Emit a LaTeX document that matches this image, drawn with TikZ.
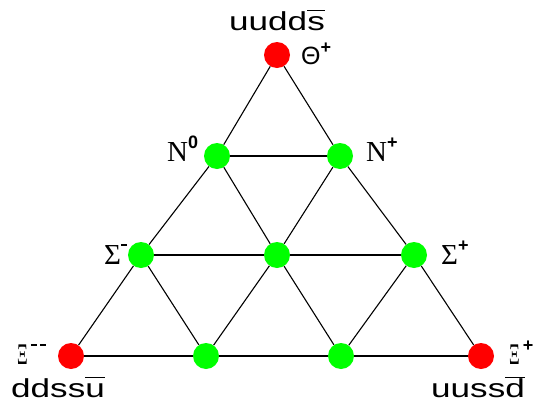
\documentclass[tikz,border=0pt]{standalone}
\usepackage{fontspec}
\setmainfont{Liberation Serif}
\newfontfamily\quarkfont{Liberation Sans}
\usetikzlibrary{positioning}

% quark content, a bit stretched like the original
\newcommand{\quarks}[1]{\scalebox{1.35}[1]{\quarkfont\fontsize{26}{30}\selectfont #1}}
\newcommand{\anti}[1]{$\overline{\mbox{\vphantom{d}#1}}$}
% charge superscript
\newcommand{\chg}[1]{\raisebox{0.42em}{\quarkfont\bfseries\fontsize{18}{18}\selectfont #1}}
\newcommand{\mns}{\rule[5.5pt]{6pt}{2.6pt}}

\begin{document}
\begin{tikzpicture}[x=1pt, y=-1pt,
		dot/.style={circle, minimum size=26pt, inner sep=0pt},
		exotic/.style={dot, fill=red},
		octet/.style={dot, fill=green},
		edge/.style={line width=1.1pt},
		lbl/.style={inner sep=0pt, font=\fontsize{29}{30}\selectfont}]
	\useasboundingbox (0,0) rectangle (542,405);
	% the ten states
	\node[exotic] (theta) at (277,55) {};
	\node[octet] (nzero) at (217,156) {};
	\node[octet] (nplus) at (340,156) {};
	\node[octet] (sigm) at (141,255) {};
	\node[octet] (sigz) at (277,255) {};
	\node[octet] (sigp) at (414,255) {};
	\node[exotic] (xim) at (71,356) {};
	\node[octet] (botl) at (206,356) {};
	\node[octet] (botr) at (341,356) {};
	\node[exotic] (xip) at (481,356) {};
	\foreach \a/\b in {theta/nzero, nzero/sigm, sigm/xim, theta/nplus, nplus/sigp, sigp/xip,
		xim/botl, botl/botr, botr/xip, nzero/nplus, sigm/sigz, sigz/sigp,
		nzero/sigz, sigz/botr, nplus/sigz, sigz/botl, sigm/botl, sigp/botr}
		\draw[edge] (\a) -- (\b);
	% names and quark content
	\node[anchor=base] (q1) at (277,30) {\quarks{uudd\anti{s}}};
	\node[lbl, anchor=base west] (l1) at (301,64) {\quarkfont\fontsize{25}{26}\selectfont Θ\chg{+}};
	\node[lbl, anchor=base west] (l2) at (167,161) {N\chg{0}};
	\node[lbl, anchor=base west] (l3) at (366,161) {N\chg{+}};
	\node[lbl, anchor=base west] (l4) at (104,264) {Σ\chg{\mns}};
	\node[lbl, anchor=base west] (l5) at (441,264) {Σ\chg{+}};
	\node[lbl, anchor=base west] (l6) at (17,364) {\scalebox{0.55}[1]{\fontsize{30}{30}\selectfont Ξ}\chg{\,\mns\hspace{3pt}\mns}};
	\node[lbl, anchor=base west] (l7) at (509,364) {\scalebox{0.55}[1]{\fontsize{30}{30}\selectfont Ξ}\chg{\,+}};
	\node[anchor=base west, inner sep=0pt] (q2) at (11,397) {\quarks{ddss\anti{u}}};
	\node[anchor=base west, inner sep=0pt] (q3) at (431,397) {\quarks{uuss\anti{d}}};
\end{tikzpicture}
\end{document}
